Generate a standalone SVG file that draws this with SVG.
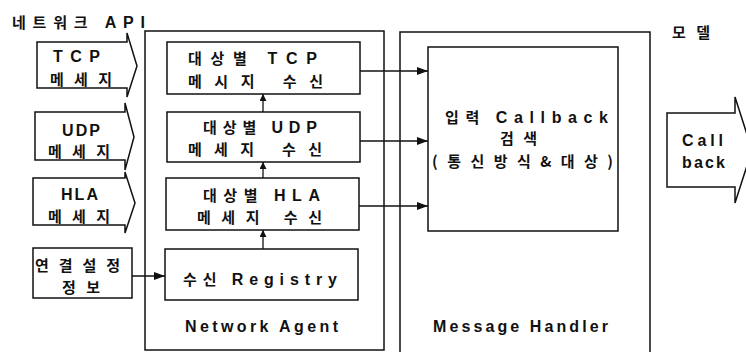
<svg xmlns="http://www.w3.org/2000/svg" width="746" height="352" viewBox="0 0 746 352">
<defs>
<style>
.box{fill:#fff;stroke:#111;stroke-width:1.5}
.grp{fill:none;stroke:#111;stroke-width:1.5}
.t{font-family:"Noto Sans CJK KR",sans-serif;font-size:15px;font-weight:bold;fill:#111}
.e{font-family:"Liberation Sans","Noto Sans CJK KR",sans-serif;font-size:16px;font-weight:bold}
.c{fill:none;stroke:#111;stroke-width:1.3}
</style>
<marker id="ah" markerUnits="userSpaceOnUse" markerWidth="12" markerHeight="10" refX="11" refY="4" orient="auto"><path d="M0,0 L11,4 L0,8 z" fill="#111"/></marker>
<marker id="av" markerUnits="userSpaceOnUse" markerWidth="8" markerHeight="8" refX="7" refY="3.5" orient="auto"><path d="M0,0 L7,3.5 L0,7 z" fill="#111"/></marker>
</defs>
<rect width="746" height="352" fill="#fff"/>

<g id="network-api-label">
<text class="t" x="12" y="28" textLength="133" lengthAdjust="spacing">네트워크 <tspan class="e">API</tspan></text>
</g>
<g id="model-label">
<text class="t" x="672" y="38" textLength="38" lengthAdjust="spacing">모델</text>
</g>

<g id="network-agent">
<rect class="grp" x="145" y="31" width="239" height="319"/>
<text class="t e" x="185" y="332" textLength="153" lengthAdjust="spacing">Network Agent</text>
</g>
<g id="message-handler">
<rect class="grp" x="400" y="32" width="250" height="324"/>
<text class="t e" x="433" y="332" textLength="175" lengthAdjust="spacing">Message Handler</text>
</g>

<g id="tcp-msg">
<polygon class="box" points="37,42 127,42 127,33 137,66 127,97 127,88 37,88"/>
<text class="t e" x="53" y="62" textLength="47" lengthAdjust="spacing">TCP</text>
<text class="t" x="50" y="85" textLength="62" lengthAdjust="spacing">메세지</text>
</g>
<g id="udp-msg">
<polygon class="box" points="35,112 125,112 125,103 134,137 125,170 125,160 35,160"/>
<text class="t e" x="62" y="136" textLength="38" lengthAdjust="spacing">UDP</text>
<text class="t" x="48" y="157" textLength="62" lengthAdjust="spacing">메세지</text>
</g>
<g id="hla-msg">
<polygon class="box" points="33,178 125,178 125,172 135,203 125,233 125,225 33,225"/>
<text class="t e" x="61" y="200" textLength="37" lengthAdjust="spacing">HLA</text>
<text class="t" x="48" y="222" textLength="62" lengthAdjust="spacing">메세지</text>
</g>
<g id="conn-info">
<rect class="box" x="33" y="248" width="99" height="50"/>
<text class="t" x="35" y="271" textLength="85" lengthAdjust="spacing">연결설정</text>
<text class="t" x="62" y="293" textLength="38" lengthAdjust="spacing">정보</text>
</g>

<g id="tcp-recv">
<rect class="box" x="167" y="42" width="193" height="52"/>
<text class="t" x="188" y="64" textLength="129" lengthAdjust="spacing">대상별 <tspan class="e">TCP</tspan></text>
<text class="t" x="188" y="87" textLength="135" lengthAdjust="spacing">메시지 수신</text>
</g>
<g id="udp-recv">
<rect class="box" x="167" y="112" width="193" height="50"/>
<text class="t" x="203" y="133" textLength="114" lengthAdjust="spacing">대상별 <tspan class="e">UDP</tspan></text>
<text class="t" x="188" y="155" textLength="134" lengthAdjust="spacing">메세지 수신</text>
</g>
<g id="hla-recv">
<rect class="box" x="166" y="178" width="193" height="52"/>
<text class="t" x="203" y="201" textLength="117" lengthAdjust="spacing">대상별 <tspan class="e">HLA</tspan></text>
<text class="t" x="197" y="223" textLength="125" lengthAdjust="spacing">메세지 수신</text>
</g>
<g id="registry">
<rect class="box" x="165" y="249" width="193" height="51"/>
<text class="t" x="183" y="285" textLength="154" lengthAdjust="spacing">수신 <tspan class="e">Registry</tspan></text>
</g>

<g id="callback-search">
<rect class="box" x="428" y="47" width="190" height="184"/>
<text class="t" x="445" y="123" textLength="163" lengthAdjust="spacing">입력 <tspan class="e">Callback</tspan></text>
<text class="t" x="500" y="144" textLength="37" lengthAdjust="spacing">검색</text>
<text class="t" x="432" y="167" textLength="181" lengthAdjust="spacing">(통신방식&amp;대상)</text>
</g>

<g id="callback-out">
<polygon class="box" points="667,113 735,113 735,97 752,150 735,203 735,187 667,187"/>
<text class="t e" x="682" y="146" textLength="41" lengthAdjust="spacing">Call</text>
<text class="t e" x="682" y="168" textLength="43" lengthAdjust="spacing">back</text>
</g>

<g id="connectors">
<path class="c" d="M360,71 H428" marker-end="url(#ah)"/>
<path class="c" d="M360,141 H428" marker-end="url(#ah)"/>
<path class="c" d="M359,206 H428" marker-end="url(#ah)"/>
<path class="c" d="M132,276 H165" marker-end="url(#ah)"/>
<path class="c" d="M263,249 V230" marker-end="url(#av)"/>
<path class="c" d="M263,178 V162" marker-end="url(#av)"/>
<path class="c" d="M263,112 V94" marker-end="url(#av)"/>
</g>
</svg>
